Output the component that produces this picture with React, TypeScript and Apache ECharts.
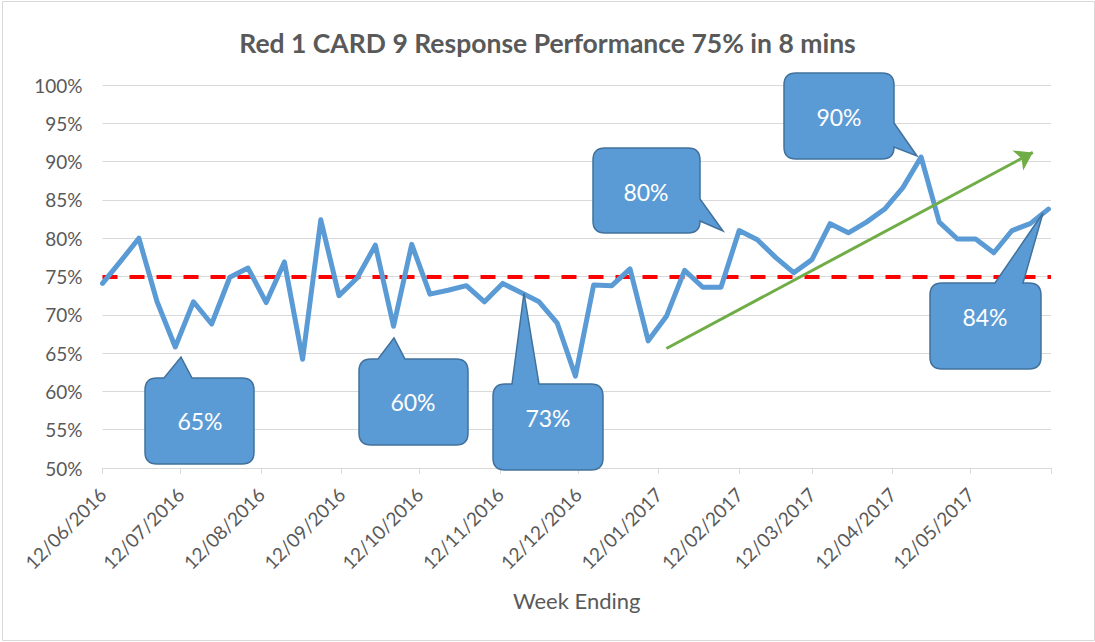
import React, { useEffect, useRef } from "react";
import * as echarts from "echarts";

// ---------- data ----------
const weekEnding = [
  "12/06/2016", "19/06/2016", "26/06/2016", "03/07/2016", "10/07/2016", "17/07/2016",
  "24/07/2016", "31/07/2016", "07/08/2016", "14/08/2016", "21/08/2016", "28/08/2016",
  "04/09/2016", "11/09/2016", "18/09/2016", "25/09/2016", "02/10/2016", "09/10/2016",
  "16/10/2016", "23/10/2016", "30/10/2016", "06/11/2016", "13/11/2016", "20/11/2016",
  "27/11/2016", "04/12/2016", "11/12/2016", "18/12/2016", "25/12/2016", "01/01/2017",
  "08/01/2017", "15/01/2017", "22/01/2017", "29/01/2017", "05/02/2017", "12/02/2017",
  "19/02/2017", "26/02/2017", "05/03/2017", "12/03/2017", "19/03/2017", "26/03/2017",
  "02/04/2017", "09/04/2017", "16/04/2017", "23/04/2017", "30/04/2017", "07/05/2017",
  "14/05/2017", "21/05/2017", "28/05/2017", "04/06/2017", "11/06/2017",
];
const performance = [
  74.1, 77.0, 80.0, 71.7, 65.8, 71.7, 68.8, 74.9, 76.1, 71.6,
  76.9, 64.2, 82.4, 72.5, 74.8, 79.1, 68.5, 79.2, 72.7, 73.2,
  73.8, 71.7, 74.1, 72.9, 71.7, 68.9, 62.0, 73.9, 73.8, 76.0,
  66.6, 69.8, 75.8, 73.6, 73.6, 81.0, 79.8, 77.5, 75.5, 77.2,
  81.9, 80.7, 82.1, 83.8, 86.6, 90.6, 82.1, 79.9, 79.9, 78.1,
  81.0, 81.9, 83.8,
];
const targetValue = 75;
const trendDates = ["15/01/2017", "05/06/2017"];
const trendValues = [65.6, 91.2];
const axisStart = "12/06/2016";
const axisEnd = "12/06/2017";
const monthTicks = [
  "12/06/2016", "12/07/2016", "12/08/2016", "12/09/2016", "12/10/2016", "12/11/2016",
  "12/12/2016", "12/01/2017", "12/02/2017", "12/03/2017", "12/04/2017", "12/05/2017",
  "12/06/2017",
];
const monthLabels = monthTicks.slice(0, 12);
const yMin = 50;
const yMax = 100;
const yStep = 5;
const titleText = "Red 1 CARD 9 Response Performance 75% in 8 mins";
const xAxisTitle = "Week Ending";

// callout annotations (pixel layout)
const callouts = [
  { label: "65%", box: [145, 378, 109, 86], side: "top", base: [164, 192], tip: [181, 357], text: [200, 421] },
  { label: "60%", box: [359, 359, 109, 86], side: "top", base: [378, 405], tip: [394, 338], text: [413, 402] },
  { label: "73%", box: [493, 384, 110, 86], side: "top", base: [512, 539], tip: [524, 293], text: [548, 418] },
  { label: "80%", box: [593, 148, 107, 85], side: "right", base: [199, 221], tip: [723, 231], text: [646, 192] },
  { label: "90%", box: [784, 73, 110, 86], side: "right", base: [123, 147], tip: [917, 156], text: [839, 117] },
  { label: "84%", box: [930, 283, 111, 86], side: "top", base: [995, 1023], tip: [1043, 213], text: [985, 317] },
];

const FONT = "Lato, 'Open Sans', sans-serif";
const DAY = 86400000;

function parseDate(d: string): number {
  const [dd, mm, yy] = d.split("/").map(Number);
  return Date.UTC(yy, mm - 1, dd);
}
const startTs = parseDate(axisStart);
function dayIndex(d: string): number {
  return Math.round((parseDate(d) - startTs) / DAY);
}
function fmtDay(v: number): string {
  const d = new Date(startTs + Math.round(v) * DAY);
  const p = (n: number) => (n < 10 ? "0" + n : "" + n);
  return p(d.getUTCDate()) + "/" + p(d.getUTCMonth() + 1) + "/" + d.getUTCFullYear();
}

let registered = false;
function registerCallout() {
  if (registered) return;
  registered = true;
  const Callout = (echarts.graphic as any).extendShape({
    type: "callout",
    shape: { x: 0, y: 0, w: 0, h: 0, r: 12, side: "top", b1: 0, b2: 0, tx: 0, ty: 0 },
    buildPath(ctx: any, s: any) {
      const { x, y, w, h, r } = s;
      ctx.moveTo(x + r, y);
      if (s.side === "top") {
        ctx.lineTo(s.b1, y);
        ctx.lineTo(s.tx, s.ty);
        ctx.lineTo(s.b2, y);
      }
      ctx.lineTo(x + w - r, y);
      ctx.quadraticCurveTo(x + w, y, x + w, y + r);
      if (s.side === "right") {
        ctx.lineTo(x + w, s.b1);
        ctx.lineTo(s.tx, s.ty);
        ctx.lineTo(x + w, s.b2);
      }
      ctx.lineTo(x + w, y + h - r);
      ctx.quadraticCurveTo(x + w, y + h, x + w - r, y + h);
      ctx.lineTo(x + r, y + h);
      ctx.quadraticCurveTo(x, y + h, x, y + h - r);
      ctx.lineTo(x, y + r);
      ctx.quadraticCurveTo(x, y, x + r, y);
      ctx.closePath();
    },
  });
  (echarts.graphic as any).registerShape("callout", Callout);
}

export default function App() {
  const ref = useRef<HTMLDivElement>(null);
  useEffect(() => {
    document.body.style.margin = "0";
    registerCallout();
    const chart = echarts.init(ref.current!, undefined, { renderer: "svg" });

    const graphics: any[] = [
      {
        type: "rect",
        silent: true,
        shape: { x: 2.5, y: 1.5, width: 1092, height: 639 },
        style: { fill: "none", stroke: "#D9D9D9", lineWidth: 1 },
        z: 0,
      },
    ];
    callouts.forEach((c) => {
      graphics.push({
        type: "callout",
        silent: true,
        shape: {
          x: c.box[0], y: c.box[1], w: c.box[2], h: c.box[3], r: 12,
          side: c.side, b1: c.base[0], b2: c.base[1], tx: c.tip[0], ty: c.tip[1],
        },
        style: { fill: "#5B9BD5", stroke: "#41719C", lineWidth: 1.5 },
        z: 100,
      });
      graphics.push({
        type: "text",
        silent: true,
        x: c.text[0],
        y: c.text[1],
        style: {
          text: c.label, fill: "#FFFFFF", fontSize: 23, fontFamily: FONT,
          align: "center", verticalAlign: "middle",
        },
        z: 101,
      });
    });

    chart.setOption({
      animation: false,
      backgroundColor: "#FFFFFF",
      title: {
        text: titleText,
        left: "center",
        top: 24,
        textStyle: { fontSize: 26.5, fontWeight: "bold", color: "#595959", fontFamily: FONT },
      },
      grid: { left: 102.5, right: 44, top: 85, bottom: 174, containLabel: false },
      xAxis: {
        type: "value",
        min: dayIndex(axisStart),
        max: dayIndex(axisEnd),
        name: xAxisTitle,
        nameLocation: "middle",
        nameGap: 121,
        nameTextStyle: { fontSize: 22, color: "#595959", fontFamily: FONT },
        axisLine: { show: true, lineStyle: { color: "#D9D9D9", width: 1 } },
        axisTick: {
          show: true,
          customValues: monthTicks.map(dayIndex),
          length: 6,
          lineStyle: { color: "#D9D9D9", width: 1 },
        },
        axisLabel: {
          customValues: monthLabels.map(dayIndex),
          rotate: 45,
          formatter: (v: number) => fmtDay(v),
          color: "#595959",
          fontSize: 19,
          fontFamily: FONT,
          margin: 23,
          hideOverlap: false,
        },
        splitLine: { show: false },
      },
      yAxis: {
        type: "value",
        min: yMin,
        max: yMax,
        interval: yStep,
        axisLine: { show: false },
        axisTick: { show: false },
        axisLabel: {
          formatter: "{value}%",
          color: "#595959",
          fontSize: 19,
          fontFamily: FONT,
          margin: 20,
        },
        splitLine: { lineStyle: { color: "#D9D9D9", width: 1 } },
      },
      series: [
        {
          type: "line",
          data: weekEnding.map((d, i) => [dayIndex(d), performance[i]]),
          symbol: "none",
          lineStyle: { color: "#5B9BD5", width: 5, join: "round", cap: "round" },
          z: 3,
          markLine: {
            silent: true,
            symbol: "none",
            label: { show: false },
            lineStyle: { color: "#FF0000", type: [15, 12], width: 4 },
            data: [{ yAxis: targetValue }],
            z: 2,
          },
        },
        {
          type: "line",
          data: trendDates.map((d, i) => [dayIndex(d), trendValues[i]]),
          symbol: "none",
          lineStyle: { opacity: 0, width: 0 },
          z: 4,
          markLine: {
            silent: true,
            symbol: ["none", "arrow"],
            symbolSize: 17,
            label: { show: false },
            lineStyle: { color: "#70AD47", type: "solid", width: 3 },
            data: [
              [
                { coord: [dayIndex(trendDates[0]), trendValues[0]] },
                { coord: [dayIndex(trendDates[1]), trendValues[1]] },
              ],
            ],
          },
        },
      ],
      graphic: graphics,
    });
    return () => chart.dispose();
  }, []);
  return <div ref={ref} style={{ width: 1095, height: 642 }} />;
}
